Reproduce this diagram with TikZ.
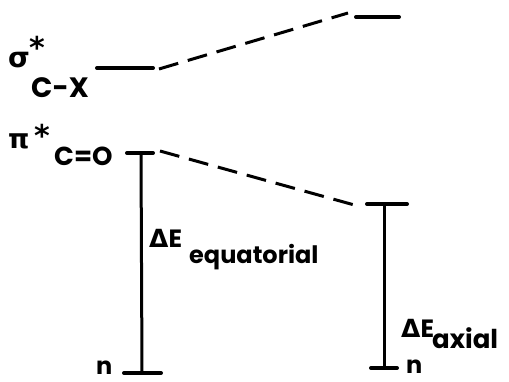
\documentclass[tikz,border=0pt]{standalone}
\usepackage{fontspec}
\setmainfont{Poppins}
\newfontfamily\gk{DejaVu Sans}
\begin{document}
\begin{tikzpicture}[x=1pt,y=-1pt,
  level/.style={line width=4pt,line cap=round},
  gapline/.style={line width=3pt},
  link/.style={line width=3pt,dash pattern=on 20pt off 10pt},
  lbl/.style={inner sep=0pt,anchor=base west,font=\bfseries}]
\useasboundingbox (0,0) rectangle (509,381);
% coordinates of level ends
\coordinate (sxa) at (97,68);   \coordinate (sxb) at (153,68);
\coordinate (sra) at (356,17);  \coordinate (srb) at (399,17);
\coordinate (pla) at (127,153); \coordinate (plb) at (153,153);
\coordinate (pv)  at (141,153);
\coordinate (pra) at (367,204); \coordinate (prb) at (407,204);
\coordinate (prv) at (384,204);
\coordinate (nla) at (124,373); \coordinate (nlb) at (161,373);
\coordinate (nlv) at (142,373);
\coordinate (nra) at (371,368); \coordinate (nrb) at (397,368);
\coordinate (nrv) at (384,368);
% levels
\draw[level] (sxa) -- (sxb);
\draw[level] (sra) -- (srb);
\draw[level] (pla) -- (plb);
\draw[level] (pra) -- (prb);
\draw[level] (nla) -- (nlb);
\draw[level] (nra) -- (nrb);
% gaps
\draw[gapline] (pv) -- (nlv);
\draw[gapline] (prv) -- (nrv);
% correlation lines
\draw[link] ([xshift=6pt,yshift=-1pt]sxb) -- ([xshift=-8pt,yshift=4pt]sra);
\draw[link] ([xshift=7pt,yshift=2pt]plb) -- ([xshift=-9pt,yshift=-2pt]pra);
% labels
\node[lbl,font=\gk\bfseries\fontsize{28}{28}\selectfont] (sig) at (8,67) {σ};
\node[lbl,font=\gk\bfseries\fontsize{30}{30}\selectfont] (sst) at (29,58) {*};
\node[lbl,font=\bfseries\fontsize{28}{28}\selectfont] (cx) at (31,97) {C-X};
\node[lbl,font=\gk\bfseries\fontsize{27}{27}\selectfont] (pi) at (8,148) {π};
\node[lbl,font=\gk\bfseries\fontsize{30}{30}\selectfont] (pst) at (34,146) {*};
\node[lbl,font=\bfseries\fontsize{26}{26}\selectfont] (co) at (54,165) {C=O};
\node[lbl,font=\bfseries\fontsize{25}{25}\selectfont] (de) at (149,247) {{\gk Δ}E};
\node[lbl,font=\bfseries\fontsize{24}{24}\selectfont] (deq) at (189,263) {equatorial};
\node[lbl,font=\bfseries\fontsize{25}{25}\selectfont] (da) at (401,337) {{\gk Δ}E};
\node[lbl,font=\bfseries\fontsize{26}{26}\selectfont] (dax) at (432,348) {axial};
\node[lbl,font=\bfseries\fontsize{24}{24}\selectfont] (nl) at (96,374) {n};
\node[lbl,font=\bfseries\fontsize{24}{24}\selectfont] (nr) at (406,373) {n};
\end{tikzpicture}
\end{document}
